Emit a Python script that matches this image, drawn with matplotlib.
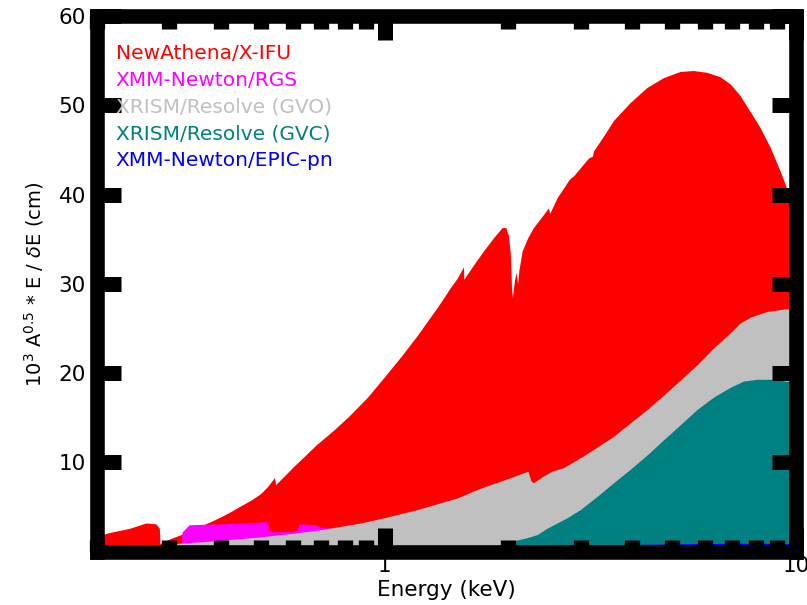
import matplotlib
matplotlib.use('Agg')
import matplotlib.pyplot as plt

# NewAthena/X-IFU
ifu_e = [0.2, 0.213, 0.24, 0.263, 0.278, 0.2835, 0.2845, 0.30, 0.32, 0.34, 0.358, 0.38,
         0.40, 0.42, 0.45, 0.475, 0.50, 0.52, 0.54, 0.5435, 0.56, 0.58, 0.60, 0.626,
         0.68, 0.752, 0.82, 0.909, 1.0, 1.094, 1.2, 1.27, 1.345, 1.40, 1.446,
         1.50, 1.555, 1.558, 1.65, 1.74, 1.85, 1.93, 1.97, 2.0, 2.02, 2.035, 2.045, 2.07,
         2.09, 2.105, 2.12, 2.16, 2.23, 2.30, 2.40, 2.50, 2.52, 2.55, 2.63, 2.72, 2.80,
         2.84, 2.88, 2.99, 3.13, 3.20, 3.22, 3.41, 3.60, 3.95, 4.34, 4.76, 5.23, 5.63,
         6.07, 6.54, 6.92, 7.31, 7.76, 8.18, 8.65, 9.14, 9.40, 10.0]
ifu_v = [1.7, 2.1, 2.6, 3.2, 3.1, 2.6, 0.9, 1.4, 1.9, 2.4, 2.9, 3.4,
         3.9, 4.4, 5.2, 5.8, 6.5, 7.3, 8.3, 7.5, 8.1, 8.8, 9.5, 10.3,
         11.9, 13.6, 15.2, 17.3, 19.6, 21.8, 24.2, 25.8, 27.4, 28.6, 29.6,
         30.6, 31.9, 30.5, 32.2, 33.7, 35.3, 36.3, 36.3, 35.4, 33.5, 29.5, 28.5, 30.5,
         31.3, 30.0, 31.5, 33.7, 35.2, 36.3, 37.4, 38.5, 37.9, 38.4, 39.7, 40.7, 41.6,
         41.9, 42.1, 43.0, 44.1, 44.3, 44.9, 46.6, 48.3, 50.3, 52.0, 53.1, 53.8, 53.9,
         53.7, 53.2, 52.4, 51.1, 49.2, 47.5, 45.3, 42.7, 41.2, 38.0]

# XMM-Newton/RGS
rgs_e = [0.32, 0.322, 0.335, 0.40, 0.45, 0.50, 0.517, 0.525, 0.55, 0.60, 0.612, 0.62,
         0.68, 0.70, 0.75, 0.80, 1.0, 1.5, 2.0, 2.4]
rgs_v = [0.0, 2.2, 3.0, 3.1, 3.2, 3.3, 3.4, 2.3, 2.2, 2.3, 2.4, 3.1,
         3.0, 2.7, 2.6, 2.4, 2.2, 1.8, 1.2, 0.8]

# XRISM/Resolve gate valve open
gvo_e = [0.2, 0.3, 0.4, 0.5, 0.6, 0.7, 0.875, 1.0, 1.2, 1.5, 1.71, 2.0, 2.2, 2.23,
         2.27, 2.30, 2.40, 2.55, 2.72, 2.94, 3.21, 3.60, 3.95, 4.34, 4.76, 5.23, 5.74,
         6.30, 6.92, 7.31, 7.77, 8.5, 9.43, 10.0]
gvo_v = [0.5, 0.85, 1.25, 1.65, 2.05, 2.45, 3.2, 3.8, 4.7, 6.0, 7.1, 8.2, 8.9, 9.0,
         7.9, 7.7, 8.3, 9.0, 9.4, 10.3, 11.4, 12.9, 14.4, 15.9, 17.5, 19.2, 20.9,
         22.8, 24.5, 25.6, 26.3, 26.9, 27.2, 27.2]

# XRISM/Resolve gate valve closed
gvc_e = [1.8, 2.0, 2.1, 2.2, 2.35, 2.48, 2.78, 2.99, 3.29, 3.60, 3.95, 4.34, 4.76,
         5.23, 5.74, 6.30, 6.92, 7.45, 8.05, 8.8, 9.43, 10.0]
gvc_v = [0.6, 0.9, 1.3, 1.5, 1.9, 2.6, 3.8, 4.7, 6.2, 7.7, 9.2, 10.8, 12.5,
         14.2, 15.9, 17.3, 18.4, 19.1, 19.3, 19.3, 19.1, 19.0]

# XMM-Newton/EPIC-pn
pn_e = [0.2, 0.5, 1.0, 2.0, 4.0, 6.0, 8.0, 10.0]
pn_v = [0.1, 0.3, 0.5, 0.65, 0.8, 0.9, 0.92, 0.88]

names = ['NewAthena/X-IFU', 'XMM-Newton/RGS', 'XRISM/Resolve (GVO)',
         'XRISM/Resolve (GVC)', 'XMM-Newton/EPIC-pn']
colors = ['red', 'magenta', 'silver', 'teal', 'blue']

fig = plt.figure(figsize=(8.07, 6.05), dpi=100)
ax = fig.add_axes([0.1202, 0.0884, 0.8662, 0.885])

series = [(ifu_e, ifu_v), (rgs_e, rgs_v), (gvo_e, gvo_v), (gvc_e, gvc_v), (pn_e, pn_v)]
for (e, v), c in zip(series, colors):
    ax.fill_between(e, 0, v, color=c, lw=0)

ax.set_xscale('log')
ax.set_xlim(0.2, 10)
ax.set_ylim(0, 60)
ax.set_xticks([1, 10])
ax.set_xticklabels(['1', '10'])
ax.set_xticks([0.2, 0.3, 0.4, 0.5, 0.6, 0.7, 0.8, 0.9, 2, 3, 4, 5, 6, 7, 8, 9], minor=True)
ax.set_xticklabels([], minor=True)
ax.set_yticks([10, 20, 30, 40, 50, 60])

for s in ax.spines.values():
    s.set_linewidth(10.5)
ax.tick_params(which='both', direction='in', top=True, right=True, labelsize=15.5)
ax.tick_params(which='major', length=17.5, width=10.8, pad=8)
ax.tick_params(which='minor', length=9, width=11)
ax.tick_params(axis='x', which='major', pad=3)

ax.set_xlabel('Energy (keV)', fontsize=15.5, labelpad=3)
ax.set_ylabel(r'$10^3$ A$^{0.5}$ $*$ E / $\delta$E (cm)', fontsize=14, labelpad=9)

for i, (n, c) in enumerate(zip(names, colors)):
    ax.text(0.027, 0.931 - i * 0.0504, n, color=c, fontsize=14.5,
            transform=ax.transAxes, va='center', ha='left')

plt.savefig('out.png', dpi=100)
